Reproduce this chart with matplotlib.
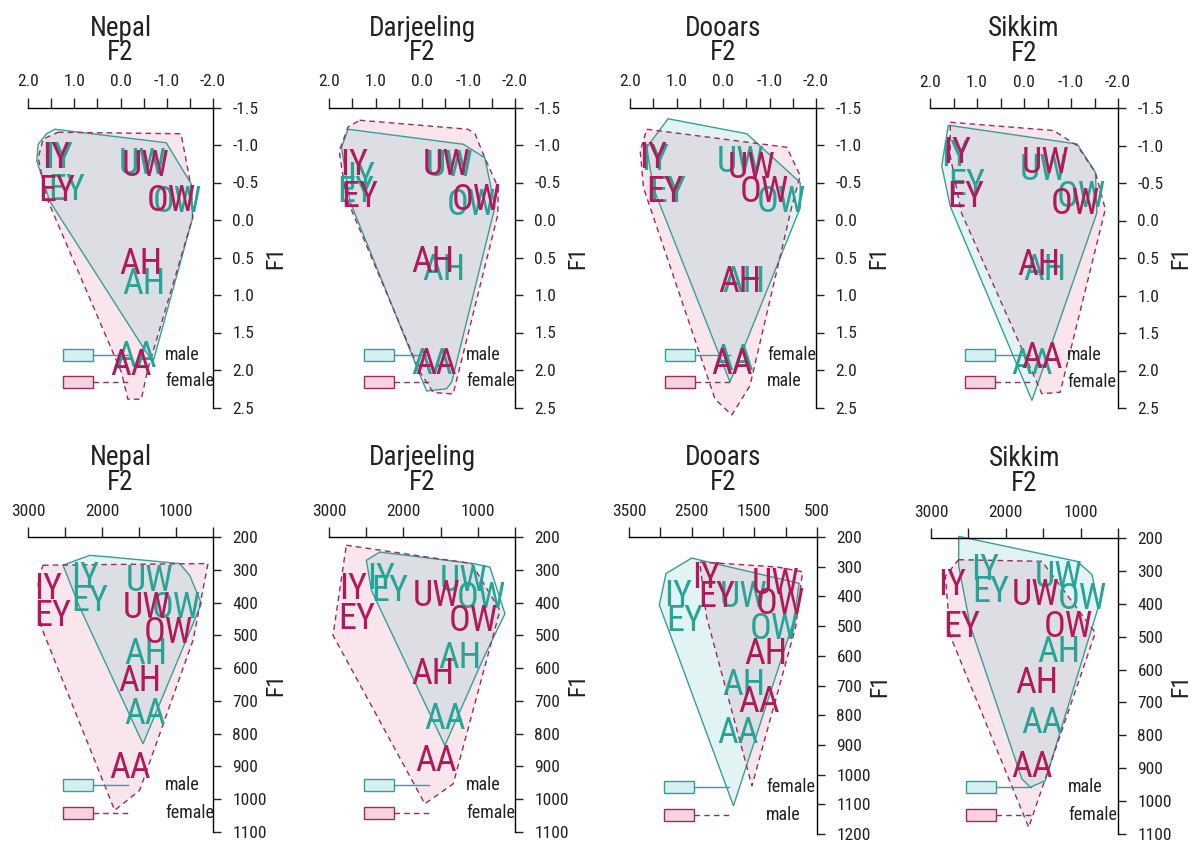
import matplotlib
matplotlib.use("Agg")
import matplotlib.pyplot as plt
from matplotlib.patches import Polygon, Rectangle
from matplotlib.lines import Line2D

NARROW = ["Roboto Condensed", "Liberation Sans", "DejaVu Sans"]
plt.rcParams["font.family"] = NARROW

W, H = 1195, 844

vowels = ["IY", "EY", "UW", "OW", "AH", "AA"]

# ---- normalised (z-score) vowel means, top row ----
nep_z_male_f2 = [1.33, 1.16, -0.47, -1.22, -0.50, -0.33]
nep_z_male_f1 = [-0.88, -0.45, -0.80, -0.29, 0.80, 1.77]
nep_z_female_f2 = [1.40, 1.37, -0.55, -1.11, -0.44, -0.23]
nep_z_female_f1 = [-0.88, -0.44, -0.77, -0.31, 0.53, 1.88]
nep_z_male_hull = [(1.42, -1.21), (-0.99, -1.03), (-1.53, -0.48), (-1.56, -0.03), (-0.70, 1.90),
                   (1.53, -0.25), (1.81, -0.79), (1.78, -1.01), (1.60, -1.15)]
nep_z_female_hull = [(1.35, -1.17), (-1.31, -1.15), (-1.53, -0.43), (-1.56, -0.03), (-0.59, 1.99),
                     (-0.45, 2.39), (-0.16, 2.39), (-0.02, 2.03), (1.60, -0.30), (1.78, -0.83),
                     (1.67, -1.08)]

dar_z_male_f2 = [1.30, 1.42, -0.60, -1.07, -0.46, -0.21]
dar_z_male_f1 = [-0.62, -0.42, -0.77, -0.25, 0.62, 1.87]
dar_z_female_f2 = [1.45, 1.34, -0.53, -1.17, -0.24, -0.31]
dar_z_female_f1 = [-0.79, -0.36, -0.79, -0.32, 0.51, 1.87]
dar_z_male_hull = [(1.59, -1.21), (-0.89, -1.01), (-1.35, -0.83), (-1.57, -0.18), (-0.64, 2.16),
                   (-0.53, 2.25), (-0.10, 2.28), (0.04, 2.07), (1.55, -0.25), (1.73, -0.97)]
dar_z_female_hull = [(1.34, -1.33), (-0.99, -1.21), (-1.14, -1.15), (-1.35, -0.83), (-1.64, -0.43),
                     (-1.63, -0.07), (-0.67, 2.32), (-0.24, 2.30), (0.04, 2.03), (1.63, -0.30),
                     (1.78, -0.92), (1.59, -1.24)]

doo_z_female_f2 = [1.46, 1.18, -0.37, -1.26, -0.44, -0.22]
doo_z_female_f1 = [-0.86, -0.43, -0.83, -0.30, 0.78, 1.81]
doo_z_male_f2 = [1.50, 1.25, -0.62, -0.90, -0.37, -0.19]
doo_z_male_f1 = [-0.88, -0.43, -0.74, -0.43, 0.78, 1.87]
doo_z_female_hull = [(1.18, -1.35), (-0.51, -1.15), (-1.66, -0.50), (-1.66, -0.16), (-0.15, 2.16),
                     (1.50, -0.43), (1.64, -0.97)]
doo_z_male_hull = [(1.64, -1.21), (-1.37, -0.97), (-1.66, -0.59), (-1.48, -0.18), (-0.58, 2.21),
                   (-0.19, 2.60), (0.17, 2.39), (1.71, -0.43), (1.78, -0.92)]

sik_z_male_f2 = [1.47, 1.22, -0.42, -1.23, -0.45, -0.17]
sik_z_male_f1 = [-0.91, -0.53, -0.73, -0.37, 0.61, 1.86]
sik_z_female_f2 = [1.43, 1.25, -0.45, -1.09, -0.31, -0.38]
sik_z_female_f1 = [-0.95, -0.37, -0.82, -0.28, 0.54, 1.78]
sik_z_male_hull = [(1.61, -1.27), (-1.13, -1.02), (-1.52, -0.64), (-1.55, -0.10), (-0.17, 2.40),
                   (1.57, -0.19), (1.75, -0.73)]
sik_z_female_hull = [(1.57, -1.31), (-0.63, -1.20), (-1.13, -1.00), (-1.52, -0.64), (-1.73, -0.15),
                     (-0.77, 2.29), (-0.38, 2.31), (1.33, -0.10), (1.57, -0.86)]

# ---- raw formant means in Hz, bottom row ----
nep_hz_male_f2 = [2234, 2167, 1356, 995, 1401, 1423]
nep_hz_male_f1 = [312, 383, 322, 403, 546, 729]
nep_hz_female_f2 = [2730, 2662, 1401, 1108, 1491, 1626]
nep_hz_female_f1 = [347, 429, 403, 480, 627, 892]
nep_hz_male_hull = [(2527, 286), (2167, 256), (1896, 261), (950, 281), (815, 317), (657, 403),
                    (1446, 831), (2302, 414)]
nep_hz_female_hull = [(2797, 286), (567, 281), (770, 515), (1491, 973), (1829, 1034), (2820, 475),
                      (2865, 332)]

dar_hz_male_f2 = [2295, 2183, 1196, 949, 1241, 1443]
dar_hz_male_f1 = [317, 353, 322, 373, 556, 744]
dar_hz_female_f2 = [2677, 2632, 1555, 1061, 1600, 1555]
dar_hz_female_f1 = [347, 439, 368, 444, 607, 871]
dar_hz_male_hull = [(2318, 246), (1061, 281), (837, 292), (635, 434), (927, 571), (1443, 836),
                    (2430, 363), (2497, 271)]
dar_hz_female_hull = [(2767, 225), (1084, 281), (702, 424), (1330, 953), (1712, 1014), (2946, 500)]

doo_hz_female_f2 = [2720, 2613, 1672, 1188, 1672, 1753]
doo_hz_female_f1 = [384, 468, 390, 496, 686, 848]
doo_hz_male_f2 = [2264, 2102, 1161, 1081, 1323, 1430]
doo_hz_male_f1 = [323, 390, 345, 412, 580, 742]
doo_hz_female_hull = [(2500, 271), (785, 356), (866, 479), (1833, 1105), (3016, 429), (2909, 323)]
doo_hz_male_hull = [(2371, 284), (1135, 301), (731, 317), (839, 502), (1538, 1038), (2264, 468)]

sik_hz_male_f2 = [2274, 2207, 1293, 981, 1293, 1516]
sik_hz_male_f1 = [286, 352, 306, 372, 534, 751]
sik_hz_female_f2 = [2719, 2586, 1605, 1160, 1583, 1650]
sik_hz_female_f1 = [331, 458, 362, 458, 630, 883]
sik_hz_male_hull = [(2630, 195), (1048, 271), (848, 311), (759, 407), (1472, 938), (1672, 958),
                    (1784, 933), (2474, 468), (2630, 286)]
sik_hz_female_hull = [(2630, 266), (1516, 271), (803, 488), (1694, 1080), (2742, 498), (2808, 316)]

TEAL_TXT, CRIM_TXT = "#28a497", "#b3195a"
TEAL_LINE, CRIM_LINE = "#3a9e96", "#9a2d5c"
TEAL_FILL, CRIM_FILL = (0.35, 0.75, 0.75, 0.18), (0.90, 0.55, 0.67, 0.22)
TEAL_BOX, CRIM_BOX = "#d3f1f1", "#f7d3df"
INK = "#222222"


def draw_panel(fig, box, xlim, ylim, xticks, xlabels, yticks, title, names, groups, leg_off):
    # box: pixel x of first/last F2 tick, pixel y of first/last F1 tick
    x0, x1, y0, y1 = box
    ax = fig.add_axes([x0 / W, 1 - y1 / H, (x1 - x0) / W, (y1 - y0) / H])
    ax.set_xlim(xlim)
    ax.set_ylim(ylim)
    ax.set_facecolor("none")
    for side in ("left", "bottom"):
        ax.spines[side].set_visible(False)
    for side in ("top", "right"):
        ax.spines[side].set_linewidth(1.0)
    ax.xaxis.set_ticks_position("top")
    ax.yaxis.set_ticks_position("right")
    ax.set_xticks(xticks)
    ax.set_xticklabels(xlabels)
    ax.set_yticks(yticks)
    ax.set_yticklabels([f"{t:.1f}" if isinstance(t, float) else str(t) for t in yticks])
    ax.tick_params(axis="x", direction="out", length=7, width=1, pad=6, labelsize=12.5,
                   colors=INK)
    ax.tick_params(axis="y", direction="out", length=6, width=1, pad=8, labelsize=12.5,
                   colors=INK)

    (f2a, f1a, hulla), (f2b, f1b, hullb) = groups
    ax.add_patch(Polygon(hullb, closed=True, facecolor=CRIM_FILL, edgecolor="none", clip_on=False))
    ax.add_patch(Polygon(hulla, closed=True, facecolor=TEAL_FILL, edgecolor="none", clip_on=False))
    ax.add_patch(Polygon(hulla, closed=True, fill=False, edgecolor=TEAL_LINE, lw=1.0,
                         clip_on=False))
    ax.add_patch(Polygon(hullb, closed=True, fill=False, edgecolor=CRIM_LINE, lw=1.0,
                         linestyle=(0, (4, 3)), clip_on=False))
    for f2, f1, col in ((f2a, f1a, TEAL_TXT), (f2b, f1b, CRIM_TXT)):
        for v, x, y in zip(vowels, f2, f1):
            ax.text(x, y, v, color=col, fontsize=26, ha="center", va="center_baseline",
                    clip_on=False)

    xm = (x0 + x1) / 2
    fig.text(xm / W, 1 - (y0 - 72) / H, title, fontsize=19.5, ha="center", va="baseline",
             color=INK)
    fig.text(xm / W, 1 - (y0 - 47) / H, "F2", fontsize=19.5, ha="center", va="baseline",
             color=INK)
    fig.text((x1 + 63) / W, 1 - ((y0 + y1) / 2) / H, "F1", fontsize=17, rotation=90,
             ha="center", va="center", color=INK)

    # legend drawn in axes fractions from pixel offsets
    def fx(px):
        return (px - x0) / (x1 - x0)

    def fy(py):
        return (y1 - py) / (y1 - y0)

    rows = [(y1 - leg_off[0], TEAL_BOX, TEAL_LINE, "-", names[0]),
            (y1 - leg_off[1], CRIM_BOX, CRIM_LINE, (0, (4, 3)), names[1])]
    for yc, fcol, lcol, ls, name in rows:
        ax.add_patch(Rectangle((fx(x0 + 35), fy(yc + 6)), fx(x0 + 65) - fx(x0 + 35),
                               fy(yc - 6) - fy(yc + 6), transform=ax.transAxes,
                               facecolor=fcol, edgecolor=lcol, lw=1.0, clip_on=False))
        ax.add_line(Line2D([fx(x0 + 65), fx(x0 + 100)], [fy(yc), fy(yc)], transform=ax.transAxes,
                           color=lcol, lw=1.0, linestyle=ls, clip_on=False))
        ax.text(fx(x0 + 137), fy(yc), name, transform=ax.transAxes, fontsize=13, ha="left",
                va="center", color=INK)
    return ax


fig = plt.figure(figsize=(W / 100, H / 100), dpi=100)
fig.patch.set_facecolor("white")

z_ticks = [2.0, 1.5, 1.0, 0.5, 0.0, -0.5, -1.0, -1.5, -2.0]
z_labels = [f"{t:.1f}" if i % 2 == 0 else "" for i, t in enumerate(z_ticks)]
z_yticks = [-1.5, -1.0, -0.5, 0.0, 0.5, 1.0, 1.5, 2.0, 2.5]

hz_ticks = [3000, 2500, 2000, 1500, 1000, 500]
hz_labels = ["3000", "", "2000", "", "1000", ""]
hz_ticks_doo = [3500, 3000, 2500, 2000, 1500, 1000, 500]
hz_labels_doo = ["3500", "", "2500", "", "1500", "", "500"]
hz_yticks = [200, 300, 400, 500, 600, 700, 800, 900, 1000, 1100]
hz_yticks_doo = hz_yticks + [1200]

mf = ["male", "female"]
fm = ["female", "male"]
top_off = (53, 26)
bot_off = (47, 19)

draw_panel(fig, (28, 213, 107.5, 407.5), (2.0, -2.0), (2.5, -1.5), z_ticks, z_labels, z_yticks,
           "Nepal", mf,
           [(nep_z_male_f2, nep_z_male_f1, nep_z_male_hull),
            (nep_z_female_f2, nep_z_female_f1, nep_z_female_hull)], top_off)
draw_panel(fig, (329, 515, 107.5, 407.5), (2.0, -2.0), (2.5, -1.5), z_ticks, z_labels, z_yticks,
           "Darjeeling", mf,
           [(dar_z_male_f2, dar_z_male_f1, dar_z_male_hull),
            (dar_z_female_f2, dar_z_female_f1, dar_z_female_hull)], top_off)
draw_panel(fig, (630, 816, 107.5, 407.5), (2.0, -2.0), (2.5, -1.5), z_ticks, z_labels, z_yticks,
           "Dooars", fm,
           [(doo_z_female_f2, doo_z_female_f1, doo_z_female_hull),
            (doo_z_male_f2, doo_z_male_f1, doo_z_male_hull)], top_off)
draw_panel(fig, (930, 1118, 108, 408), (2.0, -2.0), (2.5, -1.5), z_ticks, z_labels, z_yticks,
           "Sikkim", mf,
           [(sik_z_male_f2, sik_z_male_f1, sik_z_male_hull),
            (sik_z_female_f2, sik_z_female_f1, sik_z_female_hull)], top_off)

draw_panel(fig, (28, 213, 537, 832), (3000, 500), (1100, 200), hz_ticks, hz_labels, hz_yticks,
           "Nepal", mf,
           [(nep_hz_male_f2, nep_hz_male_f1, nep_hz_male_hull),
            (nep_hz_female_f2, nep_hz_female_f1, nep_hz_female_hull)], bot_off)
draw_panel(fig, (329, 515, 537, 832), (3000, 500), (1100, 200), hz_ticks, hz_labels, hz_yticks,
           "Darjeeling", mf,
           [(dar_hz_male_f2, dar_hz_male_f1, dar_hz_male_hull),
            (dar_hz_female_f2, dar_hz_female_f1, dar_hz_female_hull)], bot_off)
draw_panel(fig, (629, 817, 537, 834), (3500, 500), (1200, 200), hz_ticks_doo, hz_labels_doo,
           hz_yticks_doo, "Dooars", fm,
           [(doo_hz_female_f2, doo_hz_female_f1, doo_hz_female_hull),
            (doo_hz_male_f2, doo_hz_male_f1, doo_hz_male_hull)], bot_off)
draw_panel(fig, (931, 1118, 538, 834), (3000, 500), (1100, 200), hz_ticks, hz_labels, hz_yticks,
           "Sikkim", mf,
           [(sik_hz_male_f2, sik_hz_male_f1, sik_hz_male_hull),
            (sik_hz_female_f2, sik_hz_female_f1, sik_hz_female_hull)], bot_off)

fig.savefig("out.png", dpi=100)
